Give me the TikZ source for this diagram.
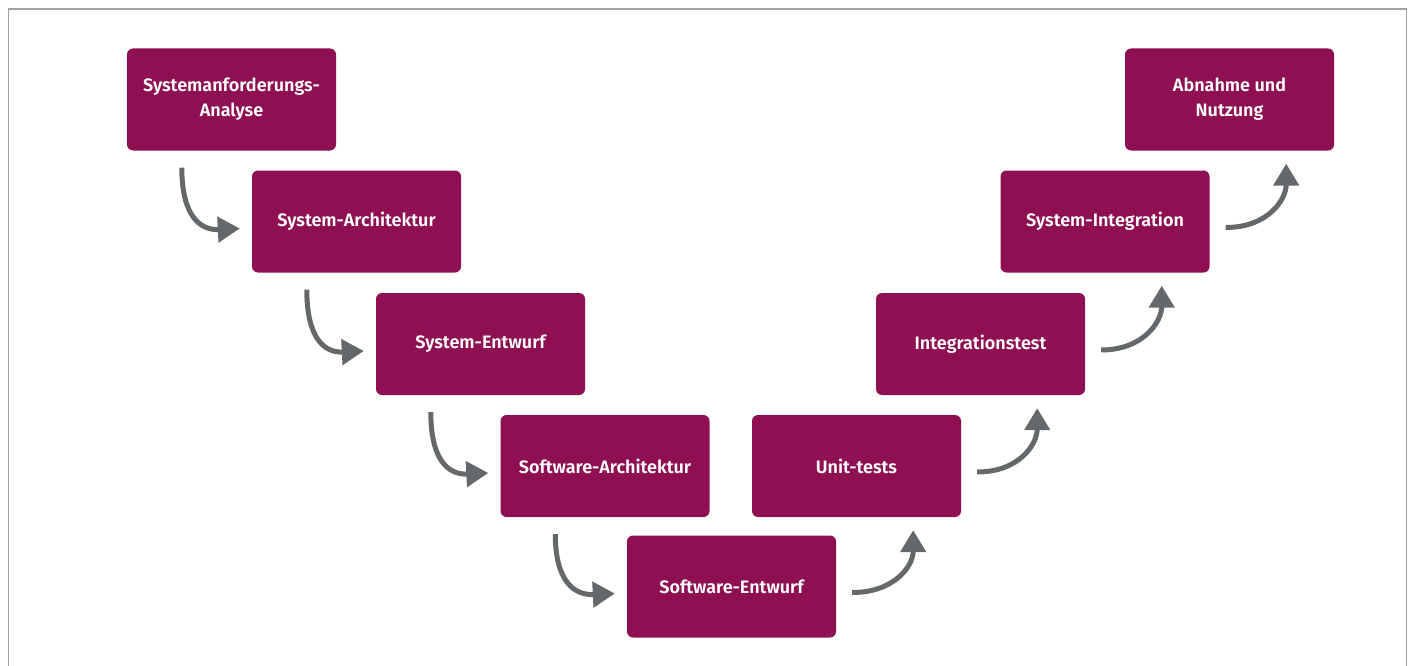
\documentclass[tikz,border=0pt]{standalone}
\usepackage{fontspec}
\setmainfont{Fira Sans}[BoldFont={Fira Sans SemiBold}]
\usetikzlibrary{arrows.meta,calc}
\definecolor{phase}{RGB}{142,16,82}
\definecolor{flow}{RGB}{100,104,106}
\definecolor{frame}{RGB}{160,160,162}
\begin{document}
\begin{tikzpicture}[x=1pt,y=-1pt,
  phasebox/.style={fill=phase,rounded corners=6pt,minimum width=209pt,minimum height=102pt,
    text=white,font=\fontsize{18}{25}\selectfont\bfseries,align=center,inner sep=0pt},
  downflow/.style={draw=flow,line width=5pt,-{Triangle[length=22pt,width=25pt]}},
  upflow/.style={draw=flow,line width=5pt,-{Triangle[length=22pt,width=25pt]}}]
\useasboundingbox (0,0) rectangle (1415,666);
\fill[white] (0,0) rectangle (1415,666);
% outer frame, open at the bottom
\draw[frame,line width=1.6pt] (8.5,666) -- (8.5,9) -- (1406.5,9) -- (1406.5,666);

% left branch (specification)
\node[phasebox] (p1) at (231.5,99.5) {Systemanforderungs-\\Analyse};
\node[phasebox] (p2) at (356.5,221.5) {System-Architektur};
\node[phasebox] (p3) at (480.5,344) {System-Entwurf};
\node[phasebox] (p4) at (605,466) {Software-Architektur};
% bottom
\node[phasebox] (p5) at (731.5,586.5) {Software-Entwurf};
% right branch (verification)
\node[phasebox] (p6) at (856.5,466) {Unit-tests};
\node[phasebox] (p7) at (980.5,344) {Integrationstest};
\node[phasebox] (p8) at (1105,221.5) {System-Integration};
\node[phasebox] (p9) at (1229.5,99.5) {Abnahme und\\Nutzung};

% downward connectors
\foreach \a/\b in {p1/p2,p2/p3,p3/p4,p4/p5}{
  \coordinate (s-\a) at ($(\a.south west)+(55,17)$);
  \coordinate (e-\a) at ($(\b.west)+(-12,7)$);
  \draw[downflow] (s-\a) .. controls ($(s-\a)+(0,48)$) and ($(e-\a)+(-40,2)$) .. (e-\a);
}
% upward connectors
\foreach \a/\b in {p5/p6,p6/p7,p7/p8,p8/p9}{
  \coordinate (s-\a) at ($(\a.east)+(16,6)$);
  \coordinate (e-\a) at ($(\b.south east)+(-48,13)$);
  \draw[upflow] (s-\a) .. controls ($(s-\a)+(42,0)$) and ($(e-\a)+(0,36)$) .. (e-\a);
}
\end{tikzpicture}
\end{document}
